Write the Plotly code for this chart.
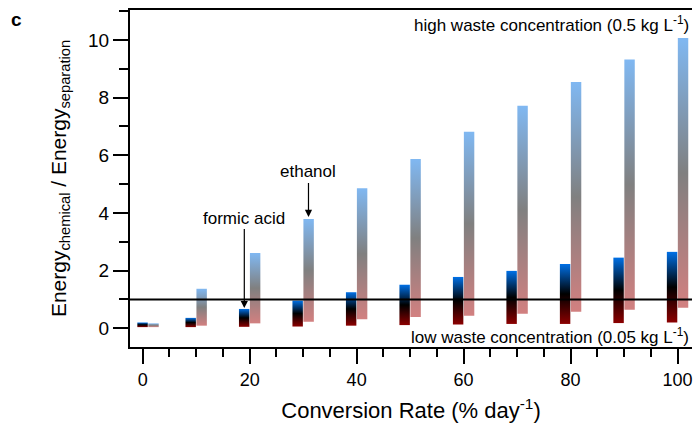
import plotly.graph_objects as go

# Data
rates = [1, 10, 20, 30, 40, 50, 60, 70, 80, 90, 100]
formic_high = [0.20, 0.36, 0.67, 0.96, 1.25, 1.51, 1.78, 1.99, 2.23, 2.45, 2.65]
formic_low = [0.04, 0.04, 0.05, 0.06, 0.09, 0.11, 0.13, 0.15, 0.15, 0.18, 0.20]
ethanol_high = [0.17, 1.37, 2.61, 3.79, 4.86, 5.87, 6.82, 7.72, 8.54, 9.32, 10.07]
ethanol_low = [0.04, 0.09, 0.17, 0.23, 0.31, 0.39, 0.43, 0.50, 0.57, 0.64, 0.71]

BAR_W = 1.95
formic_scale = [[0, "rgb(140,0,0)"], [0.5, "rgb(0,0,0)"], [1, "rgb(0,112,230)"]]
ethanol_scale = [[0, "rgb(210,128,128)"], [0.5, "rgb(128,128,128)"], [1, "rgb(128,184,242)"]]

FONT = "Liberation Sans, Arial, sans-serif"

fig = go.Figure()


def add_bar(x_left, lo, hi, scale):
    x_right = x_left + BAR_W
    fig.add_trace(go.Scatter(
        x=[x_left, x_right, x_right, x_left, x_left],
        y=[lo, lo, hi, hi, lo],
        mode="lines",
        line=dict(width=0),
        fill="toself",
        fillgradient=dict(type="vertical", colorscale=scale, start=lo, stop=hi),
        hoverinfo="skip",
        showlegend=False,
    ))


for r, lo, hi in zip(rates, formic_low, formic_high):
    add_bar(r - 2.0, lo, hi, formic_scale)
for r, lo, hi in zip(rates, ethanol_low, ethanol_high):
    add_bar(r + 0.05, lo, hi, ethanol_scale)

fig.add_shape(type="line", xref="paper", x0=0, x1=1, yref="y", y0=1, y1=1,
              line=dict(color="black", width=2))

ann_font = dict(family=FONT, size=17, color="black")
fig.add_annotation(text="high waste concentration (0.5 kg L<sup>-1</sup>)",
                   xref="paper", yref="paper", x=0.998, y=0.957, xanchor="right",
                   yanchor="middle", showarrow=False, font=ann_font)
fig.add_annotation(text="low waste concentration (0.05 kg L<sup>-1</sup>)",
                   xref="paper", yref="y", x=0.998, y=-0.28, xanchor="right",
                   yanchor="middle", showarrow=False, font=ann_font)
fig.add_annotation(text="formic acid", x=19, y=0.70, ax=0, ay=-90,
                   showarrow=True, arrowhead=2, arrowsize=1.2, arrowwidth=1.2,
                   arrowcolor="black", font=ann_font)
fig.add_annotation(text="ethanol", x=31, y=3.86, ax=0, ay=-45,
                   showarrow=True, arrowhead=2, arrowsize=1.2, arrowwidth=1.2,
                   arrowcolor="black", font=ann_font)
fig.add_annotation(text="<b>c</b>", xref="paper", yref="paper", x=-0.215, y=1.008,
                   xanchor="left", yanchor="top", showarrow=False,
                   font=dict(family=FONT, size=19, color="black"))

fig.update_layout(
    width=694, height=424,
    margin=dict(l=130, r=2, t=10, b=77),
    paper_bgcolor="white", plot_bgcolor="white",
    font=dict(family=FONT, size=16, color="black"),
    xaxis=dict(
        range=[-2.37, 102.7], showgrid=False, zeroline=False,
        showline=True, linecolor="black", linewidth=2, mirror=True,
        ticks="outside", ticklen=15, tickwidth=2, tickcolor="black",
        tick0=0, dtick=20,
        minor=dict(ticks="outside", ticklen=8, tickwidth=2, tickcolor="black", dtick=5),
        tickfont=dict(size=18),
        title=dict(text="Conversion Rate (% day<sup>-1</sup>)", font=dict(size=22), standoff=14),
    ),
    yaxis=dict(
        range=[-0.65, 11.04], showgrid=False, zeroline=False,
        showline=True, linecolor="black", linewidth=2,
        ticks="outside", ticklen=15, tickwidth=2, tickcolor="black",
        tick0=0, dtick=2,
        minor=dict(ticks="outside", ticklen=9, tickwidth=2, tickcolor="black", dtick=1),
        tickfont=dict(size=19),
        title=dict(text="Energy<sub>chemical</sub> / Energy<sub>separation</sub>",
                   font=dict(size=21), standoff=16),
    ),
)

fig.write_html(
    "out.html",
    config={"displayModeBar": False},
    post_script="document.body.style.margin='0px';document.body.style.overflow='hidden';",
)
